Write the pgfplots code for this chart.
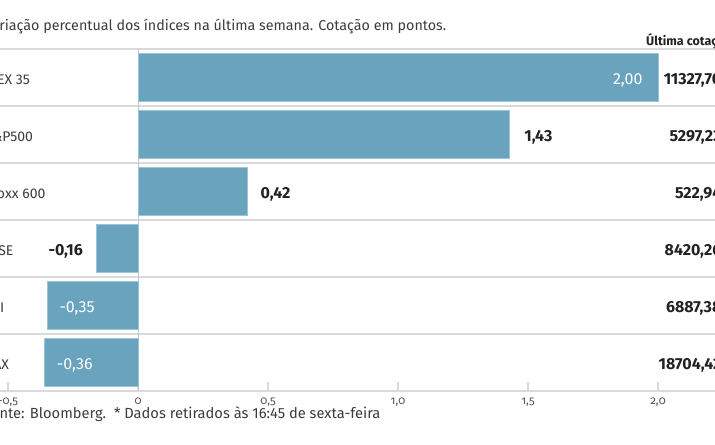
\documentclass[border=0pt]{standalone}
\usepackage{fontspec}
\setmainfont{Fira Sans}
\newfontfamily\tickfont[Numbers=OldStyle]{Fira Sans}
\newfontfamily\valfont[Numbers=Proportional]{Fira Sans}
\usepackage{pgfplots}
\pgfplotsset{compat=1.18}
\definecolor{barblue}{HTML}{6AA3BE}
\definecolor{barline}{HTML}{9CC4D7}
\definecolor{sepgray}{HTML}{DADADA}
\definecolor{txtgray}{HTML}{3C3C3C}
\definecolor{valdark}{HTML}{222222}
\definecolor{tickgray}{HTML}{555555}
\begin{document}
\begin{tikzpicture}
\begin{axis}[
  x=260bp, y=57bp, y dir=reverse,
  xmin=-0.6, xmax=2.35, ymin=-0.5, ymax=5.5,
  anchor=origin, at={(138bp,-77.5bp)},
  clip=false,
  axis x line*=bottom, axis y line*=left,
  x axis line style={draw=sepgray, line width=1.4bp, -},
  y axis line style={draw=none},
  xtick={-0.5,0,0.5,1,1.5,2},
  xticklabels={{-0,5},{0},{0,5},{1,0},{1,5},{2,0}},
  tick align=inside, major tick length=9bp,
  xtick style={draw=sepgray, line width=1.2bp},
  ytick={0,1,2,3,4,5},
  yticklabels={IBEX 35,S\&P500,Stoxx 600,FTSE,PSI,DAX},
  ytick style={draw=none},
  yticklabel style={anchor=base west, xshift=-1bp, yshift=-6.5bp, text=txtgray, font=\fontsize{14bp}{16bp}\selectfont},
  xticklabel style={anchor=base, yshift=-13.5bp, text=tickgray, font=\tickfont\fontsize{11.5bp}{13bp}\selectfont},
]
% row separators
\foreach \yy in {-0.5,0.5,1.5,2.5,3.5,4.5}{
  \edef\tmp{\noexpand\draw[sepgray, line width=1.4bp] (axis cs:-0.6,\yy) -- (axis cs:2.35,\yy);}\tmp
}
% zero line
\draw[sepgray!80!gray, line width=0.9bp] (axis cs:0,-0.5) -- (axis cs:0,5.5);
\addplot[xbar, bar width=48bp, fill=barblue, draw=barline, line width=0.8bp]
  coordinates {(2.00,0) (1.43,1) (0.42,2) (-0.16,3) (-0.35,4) (-0.36,5)};
% value labels
\node[anchor=base east, xshift=-12bp, yshift=-6.5bp, text=white, font=\valfont\fontsize{16bp}{18bp}\selectfont] at (axis cs:2.00,0) {2,00};
\node[anchor=base west, xshift=11bp, yshift=-6.5bp, text=valdark, font=\valfont\bfseries\fontsize{16bp}{18bp}\selectfont] at (axis cs:1.43,1) {1,43};
\node[anchor=base west, xshift=10bp, yshift=-6.5bp, text=valdark, font=\valfont\bfseries\fontsize{16bp}{18bp}\selectfont] at (axis cs:0.42,2) {0,42};
\node[anchor=base east, xshift=-10bp, yshift=-6.5bp, text=valdark, font=\valfont\bfseries\fontsize{16bp}{18bp}\selectfont] at (axis cs:-0.16,3) {-0,16};
\node[anchor=base west, xshift=9bp, yshift=-6.5bp, text=white, font=\valfont\fontsize{16bp}{18bp}\selectfont] at (axis cs:-0.35,4) {-0,35};
\node[anchor=base west, xshift=9bp, yshift=-6.5bp, text=white, font=\valfont\fontsize{16bp}{18bp}\selectfont] at (axis cs:-0.36,5) {-0,36};
\end{axis}
% title, header, source
\node[anchor=base west, inner sep=0pt, text=txtgray, font=\fontsize{14.3bp}{17bp}\selectfont] at (-16bp,-30bp) {Variação percentual dos índices na última semana. Cotação em pontos.};
\node[anchor=base west, inner sep=0pt, text=valdark, font=\bfseries\fontsize{12.5bp}{15bp}\selectfont] at (646bp,-45bp) {Última cotação};
\node[anchor=base west, inner sep=0pt, text=txtgray, font=\fontsize{14.7bp}{17bp}\selectfont] at (-16bp,-418bp) {Fonte: Bloomberg.\ \ * Dados retirados às 16:45 de sexta-feira};
% last quotes
\foreach \v/\yb in {11327{,}70/84, 5297{,}23/141, 522{,}94/198, 8420{,}26/255, 6887{,}38/312, 18704{,}42/369}{
  \node[anchor=base east, inner sep=0pt, text=valdark, font=\valfont\bfseries\fontsize{16bp}{18bp}\selectfont] at (721.5bp,-\yb bp) {\v};
}
\pgfresetboundingbox
\useasboundingbox (0,0) rectangle (715bp,-445bp);
\end{tikzpicture}
\end{document}
